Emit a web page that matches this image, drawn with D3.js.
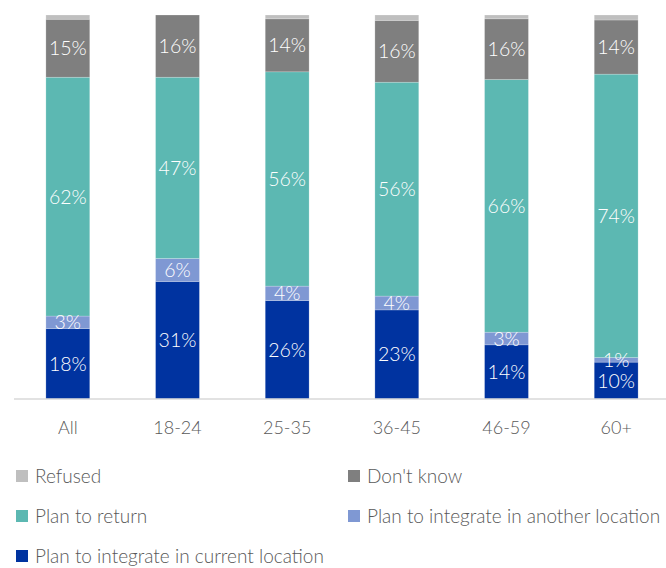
<!DOCTYPE html>
<html><head><meta charset="utf-8">
<script src="https://cdn.jsdelivr.net/npm/d3@7"></script>
<style>
html,body{margin:0;padding:0;background:#fff;}
text{font-family:Lato,"Open Sans",sans-serif;font-weight:300;}
</style></head>
<body><svg id="c" width="666" height="568"></svg>
<script>
const categories = ["All","18-24","25-35","36-45","46-59","60+"];
const seriesNames = ["Plan to integrate in current location","Plan to integrate in another location","Plan to return","Don't know","Refused"];
const current  = [18.3, 30.6, 25.6, 23.2, 14.1, 9.6];
const another  = [3.3, 6.0, 3.8, 3.6, 3.3, 1.2];
const planReturn = [62.2, 47.2, 55.8, 55.7, 65.8, 73.8];
const dontKnow = [15.1, 16.2, 13.8, 16.1, 15.8, 14.1];
const refused  = [1.1, 0.0, 1.0, 1.4, 1.0, 1.3];
const colors = ["#0033a0","#7f98d3","#5cb8b2","#7f7f7f","#bfbfbf"];
const showLabel = [true,true,true,true,false];

const svg = d3.select("#c");
const x = d3.scaleBand().domain(categories).range([13, 671]).paddingInner(0.6).paddingOuter(0.3);
const y = d3.scaleLinear().domain([0,100]).range([399, 15]);

const rows = categories.map((c,i)=>({cat:c, v:[current[i],another[i],planReturn[i],dontKnow[i],refused[i]]}));
const keys = [0,1,2,3,4];
const stack = d3.stack().keys(keys).value((d,k)=>d.v[k]);
const layers = stack(rows);

const g = svg.append("g");
layers.forEach((layer,k)=>{
  g.selectAll(null).data(layer).enter().append("rect")
    .attr("x", d=>x(d.data.cat))
    .attr("width", x.bandwidth())
    .attr("y", d=>y(d[1]))
    .attr("height", d=>Math.max(0, y(d[0])-y(d[1])))
    .attr("fill", colors[k])
    .attr("stroke", "#ffffff").attr("stroke-opacity",0.35).attr("stroke-width",0.6);
});
layers.forEach((layer,k)=>{
  if(!showLabel[k]) return;
  g.selectAll(null).data(layer.filter(d=>d.data.v[k]>0)).enter().append("text")
    .attr("x", d=>x(d.data.cat)+x.bandwidth()/2)
    .attr("y", d=>(y(d[0])+y(d[1]))/2)
    .attr("dy","0.36em")
    .attr("text-anchor","middle")
    .attr("fill","#ffffff")
    .attr("font-size","19.5px")
    .text(d=>Math.round(d.data.v[k])+"%");
});

// axis
const ax = svg.append("g").attr("transform","translate(0,399)").call(d3.axisBottom(x).tickSize(0).tickPadding(22));
ax.select(".domain").attr("stroke","#d9d9d9").attr("stroke-width",1.5).attr("d","M14,0H666");
ax.selectAll("text").attr("font-size","18px").attr("fill","#595959").attr("font-family","Lato,'Open Sans',sans-serif").attr("font-weight",300);

// legend
const legendOrder = [4,3,2,1,0];
const legendPos = [[16,476],[348,476],[16,516],[348,516],[16,556]];
const lg = svg.append("g");
legendOrder.forEach((k,i)=>{
  const [lx,ly] = legendPos[i];
  lg.append("rect").attr("x",lx).attr("y",ly-6).attr("width",12).attr("height",12).attr("fill",colors[k]);
  lg.append("text").attr("x",lx+19).attr("y",ly).attr("dy","0.36em")
    .attr("font-size","19px").attr("fill","#595959").text(seriesNames[k]);
});
</script></body></html>
